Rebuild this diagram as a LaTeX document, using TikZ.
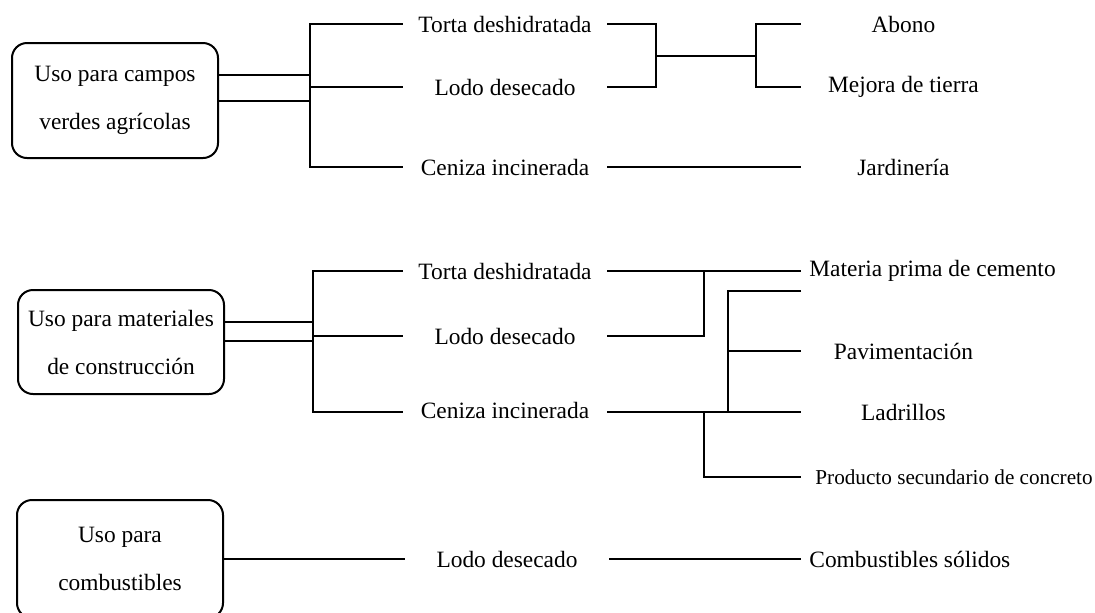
\documentclass[tikz,border=0pt]{standalone}
\usepackage{fontspec}
\setmainfont{Liberation Serif}

\begin{document}
\begin{tikzpicture}[
  x=0.5pt, y=-0.5pt,
  usebox/.style={draw, rounded corners=7.5pt, minimum width=103pt, align=center, line width=1pt, font=\fontsize{11.7}{24}\selectfont},
  item/.style={minimum width=102pt, inner xsep=2pt, inner ysep=2pt, font=\fontsize{11.7}{14}\selectfont},
  link/.style={line width=0.9pt},
]
  \clip (0,0) rectangle (1095,612);

  \node[usebox, minimum height=57.5pt] (agri) at (115,100.5) {Uso para campos\\verdes agrícolas};
  \node[item] (tortaA) at (505,24) {Torta deshidratada};
  \node[item] (lodoA) at (505,87) {Lodo desecado};
  \node[item] (cenizaA) at (505,167) {Ceniza incinerada};
  \node[item, anchor=west] (abono) at (801,24) {Abono};
  \node[item, anchor=west] (mejora) at (801,87) {Mejora de tierra};
  \node[item, anchor=west] (jardin) at (801,167) {Jardinería};
  \coordinate (agriU) at (310,75);
  \coordinate (agriD) at (310,101);
  \coordinate (joinA) at (656,56);
  \coordinate (splitA) at (756,56);
  \draw[link] (agri.east |- agriU) -- (agriU);
  \draw[link] (agri.east |- agriD) -- (agriD);
  \draw[link] (tortaA.west) -| (agriU) |- (cenizaA.west);
  \draw[link] (agriD) |- (lodoA.west);
  \draw[link] (tortaA.east) -| (joinA) -- (splitA) |- (abono.west);
  \draw[link] (lodoA.east) -| (joinA);
  \draw[link] (splitA) |- (mejora.west);
  \draw[link] (cenizaA.east) -- (jardin.west);

  \node[usebox, minimum height=52pt] (build) at (121,342) {Uso para materiales\\de construcción};
  \node[item] (tortaB) at (505,271) {Torta deshidratada};
  \node[item] (lodoB) at (505,336) {Lodo desecado};
  \node[item] (cenizaB) at (505,410) {Ceniza incinerada};
  \node[item, anchor=west, inner xsep=4pt] (cement) at (801,271) {Materia prima de cemento};
  \node[item, anchor=west] (pav) at (801,351) {Pavimentación};
  \node[item, anchor=west] (lad) at (801,412) {Ladrillos};
  \node[item, anchor=west, inner xsep=7pt, font=\fontsize{10.6}{13}\selectfont] (prod) at (801,477) {Producto secundario de concreto};
  \coordinate (buildU) at (313,322);
  \coordinate (buildD) at (313,341);
  \coordinate (joinB) at (704,271);
  \coordinate (splitB) at (728,291);
  \coordinate (cementLow) at (801,291);
  \draw[link] (build.east |- buildU) -- (buildU);
  \draw[link] (build.east |- buildD) -- (buildD);
  \draw[link] (tortaB.west) -| (buildU) |- (lad.west -| tortaB.west);
  \draw[link] (buildD) |- (lodoB.west);
  \draw[link] (tortaB.east) -- (cement.west);
  \draw[link] (lodoB.east) -| (joinB);
  \draw[link] (cementLow) -- (splitB) |- (lad.west);
  \draw[link] (splitB |- pav.west) -- (pav.west);
  \draw[line width=1.3pt] (lad.west -| cenizaB.east) -- (splitB |- lad.west);
  \draw[link] (lad.west -| joinB) |- (prod.west);

  \node[usebox, minimum height=59pt] (fuel) at (120,559) {Uso para\\combustibles};
  \node[item] (lodoC) at (507,559) {Lodo desecado};
  \node[item, anchor=west, inner xsep=4pt] (solid) at (801,559) {Combustibles sólidos};
  \draw[link] (fuel.east) -- (lodoC.west);
  \draw[link] (lodoC.east) -- (solid.west);
\end{tikzpicture}
\end{document}
